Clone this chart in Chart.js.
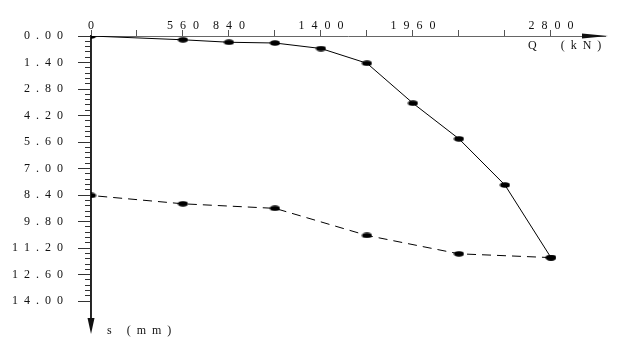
<!DOCTYPE html>
<html>
<head>
<meta charset="utf-8">
<script src="https://cdn.jsdelivr.net/npm/chart.js@4.4.0/dist/chart.umd.min.js"></script>
<style>
  html, body { margin: 0; padding: 0; background: #fff; }
  #wrap { width: 623px; height: 352px; position: relative; }
</style>
</head>
<body>
<div id="wrap"><canvas id="qsChart"></canvas></div>
<script>
// Curva Q-s: carga y descarga
const loadQ = [0, 560, 840, 1120, 1400, 1680, 1960, 2240, 2520, 2800];
const loadS = [0, 0.20, 0.33, 0.37, 0.66, 1.44, 3.55, 5.43, 7.87, 11.70];
const unloadQ = [2800, 2240, 1680, 1120, 560, 0];
const unloadS = [11.70, 11.50, 10.53, 9.10, 8.86, 8.42];

// ejes
const qTicks = [0, 280, 560, 840, 1120, 1400, 1680, 1960, 2240, 2520, 2800];
const qLabels = [0, 560, 840, 1400, 1960, 2800];
const sTicks = [0, 1.4, 2.8, 4.2, 5.6, 7.0, 8.4, 9.8, 11.2, 12.6, 14.0];
const sMinorTicks = [];
for (let i = 0; i <= 50; i++) sMinorTicks.push(+(i * 0.28).toFixed(2));

const Q_MAX = 3129;
const S_MAX = 15.1;
const ink = '#111';

function spaced(str, gap) {
    return str.split('').join(gap);
}

// punto elíptico
function ellipsePoint() {
    const c = document.createElement('canvas');
    c.width = 11; c.height = 6;
    const g = c.getContext('2d');
    g.fillStyle = '#000';
    g.beginPath();
    g.ellipse(5.5, 3, 5, 2.7, 0, 0, Math.PI * 2);
    g.fill();
    return c;
}
const dot = ellipsePoint();

const arrowsAndTitles = {
    id: 'arrowsAndTitles',
    afterDraw(chart) {
        const ctx = chart.ctx;
        const a = chart.chartArea;
        ctx.save();
        ctx.fillStyle = '#111';
        // flecha eje Q
        ctx.beginPath();
        ctx.moveTo(a.right - 23, a.top - 2.5);
        ctx.lineTo(a.right + 3, a.top);
        ctx.lineTo(a.right - 23, a.top + 2.5);
        ctx.closePath();
        ctx.fill();
        // flecha eje s
        ctx.beginPath();
        ctx.moveTo(a.left - 3.5, a.bottom - 4);
        ctx.lineTo(a.left + 3.5, a.bottom - 4);
        ctx.lineTo(a.left, a.bottom + 12);
        ctx.closePath();
        ctx.fill();
        // títulos
        ctx.fillStyle = ink;
        ctx.font = '12px "Liberation Serif", serif';
        ctx.textBaseline = 'middle';
        ctx.textAlign = 'left';
        ctx.fillText(spaced('Q  (kN)', '\u2002'), 528, a.top + 10);
        ctx.fillText(spaced('s (mm)', '\u2002'), 107, a.bottom + 9);
        ctx.restore();
    }
};

document.addEventListener('DOMContentLoaded', function() {
    const ctx = document.getElementById('qsChart').getContext('2d');
    new Chart(ctx, {
        type: 'scatter',
        data: {
            datasets: [{
                label: 'Carga',
                data: loadQ.map((q, i) => ({ x: q, y: loadS[i] })),
                showLine: true,
                borderColor: '#000',
                borderWidth: 1,
                pointStyle: dot,
                pointRadius: 4,
                yAxisID: 'y'
            }, {
                label: 'Descarga',
                data: unloadQ.map((q, i) => ({ x: q, y: unloadS[i] })),
                showLine: true,
                borderColor: '#000',
                borderWidth: 1,
                borderDash: [9, 6],
                pointStyle: dot,
                pointRadius: 4,
                yAxisID: 'y'
            }]
        },
        options: {
            responsive: true,
            maintainAspectRatio: false,
            animation: false,
            layout: { padding: { left: 0, right: 18, top: 0, bottom: 30 } },
            plugins: {
                legend: { display: false },
                tooltip: { enabled: false }
            },
            scales: {
                x: {
                    type: 'linear',
                    position: 'top',
                    min: 0,
                    max: Q_MAX,
                    afterBuildTicks: s => { s.ticks = qTicks.map(v => ({ value: v })); },
                    afterFit: s => { s.height = 36; },
                    ticks: {
                        color: ink,
                        font: { family: '"Liberation Serif", serif', size: 12 },
                        padding: -3,
                        maxRotation: 0,
                        autoSkip: false,
                        callback: v => qLabels.includes(v) ? spaced(String(v), '\u2002\u200a') : ''
                    },
                    grid: { drawOnChartArea: false, drawTicks: true, tickLength: 6, color: '#555' },
                    border: { display: true, color: '#666', width: 1 }
                },
                y: {
                    type: 'linear',
                    position: 'left',
                    reverse: true,
                    min: 0,
                    max: S_MAX,
                    weight: 1,
                    afterBuildTicks: s => { s.ticks = sTicks.map(v => ({ value: v })); },
                    afterFit: s => { s.width = 91; },
                    ticks: {
                        color: ink,
                        font: { family: '"Liberation Serif", serif', size: 12 },
                        padding: 15,
                        autoSkip: false,
                        callback: v => spaced(v.toFixed(2), '\u2002')
                    },
                    grid: { drawOnChartArea: false, drawTicks: true, tickLength: 13, color: '#333' },
                    border: { display: true, color: '#333', width: 1 }
                },
                yMinor: {
                    type: 'linear',
                    position: 'left',
                    reverse: true,
                    min: 0,
                    max: S_MAX,
                    weight: 0,
                    afterBuildTicks: s => { s.ticks = sMinorTicks.map(v => ({ value: v })); },
                    afterFit: s => { s.width = 0; },
                    ticks: { display: false, autoSkip: false },
                    grid: { drawOnChartArea: false, drawTicks: true, tickLength: 6, color: '#333' },
                    border: { display: true, color: '#222', width: 1.5 }
                }
            }
        },
        plugins: [arrowsAndTitles]
    });
});
</script>
</body>
</html>
